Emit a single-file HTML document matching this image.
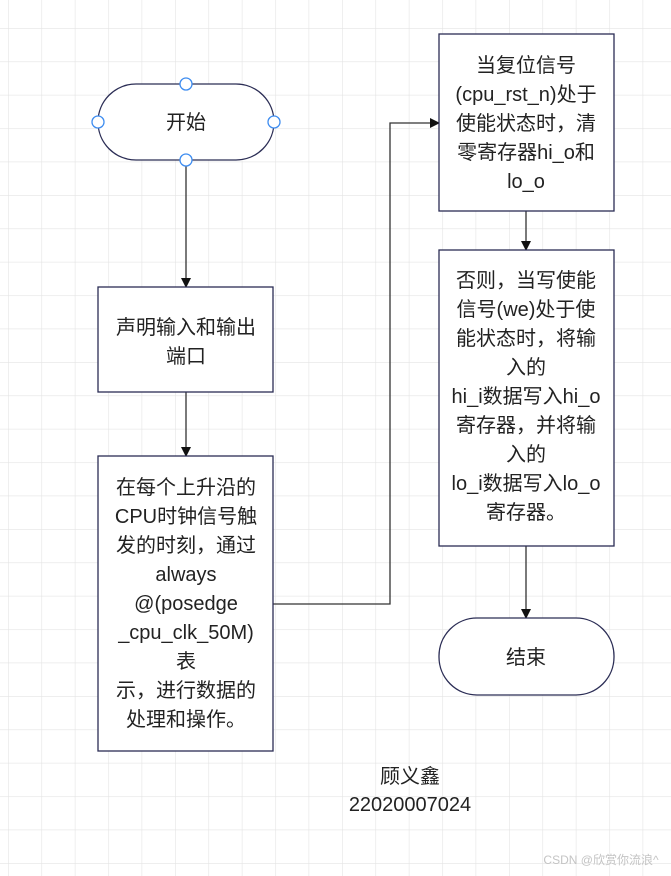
<!DOCTYPE html>
<html><head><meta charset="utf-8"><style>
html,body{margin:0;padding:0;background:#fff}
svg{display:block}
text{font-family:"Liberation Sans","Noto Sans CJK SC",sans-serif;fill:#222}
</style></head><body>
<svg width="671" height="876" viewBox="0 0 671 876" xmlns="http://www.w3.org/2000/svg">
<defs>
<pattern id="g" x="8" y="28" width="33.4" height="33.4" patternUnits="userSpaceOnUse">
<path d="M0 0V33.4M0 0H33.4" stroke="#e4e4e4" stroke-width="1.2" fill="none"/>
</pattern>
<marker id="a" markerWidth="10" markerHeight="10" refX="9" refY="5" orient="auto" markerUnits="userSpaceOnUse">
<path d="M0 0L10 5L0 10Z" fill="#111"/>
</marker>
</defs>
<rect width="671" height="876" fill="#fff"/>
<rect width="671" height="876" fill="url(#g)"/>
<g stroke="#333" stroke-width="1.3" fill="none">
<path d="M186 160V287" marker-end="url(#a)"/>
<path d="M186 392V456" marker-end="url(#a)"/>
<path d="M273 604H390V123H439" marker-end="url(#a)"/>
<path d="M526 211V250" marker-end="url(#a)"/>
<path d="M526 546V618" marker-end="url(#a)"/>
</g>
<g stroke="#2b2d55" stroke-width="1.3" fill="#fff">
<rect x="98" y="84" width="176" height="76" rx="38"/>
<rect x="98" y="287" width="175" height="105"/>
<rect x="98" y="456" width="175" height="295"/>
<rect x="439" y="34" width="175" height="177"/>
<rect x="439" y="250" width="175" height="296"/>
<rect x="439" y="618" width="175" height="77" rx="38"/>
</g>
<g fill="#fff" stroke="#3d8cf0" stroke-width="1.3">
<circle cx="186" cy="84" r="6"/><circle cx="186" cy="160" r="6"/>
<circle cx="98" cy="122" r="6"/><circle cx="274" cy="122" r="6"/>
</g>
<g font-size="20" text-anchor="middle">
<text x="186" y="129">开始</text>
<text x="186" y="334">声明输入和输出</text>
<text x="186" y="363">端口</text>
<text x="186" y="494">在每个上升沿的</text>
<text x="186" y="523">CPU时钟信号触</text>
<text x="186" y="552">发的时刻，通过</text>
<text x="186" y="581">always</text>
<text x="186" y="610">@(posedge</text>
<text x="186" y="639">_cpu_clk_50M)</text>
<text x="186" y="668">表</text>
<text x="186" y="697">示，进行数据的</text>
<text x="186" y="726">处理和操作。</text>
<text x="526" y="72">当复位信号</text>
<text x="526" y="101">(cpu_rst_n)处于</text>
<text x="526" y="130">使能状态时，清</text>
<text x="526" y="159">零寄存器hi_o和</text>
<text x="526" y="188">lo_o</text>
<text x="526" y="287">否则，当写使能</text>
<text x="526" y="316">信号(we)处于使</text>
<text x="526" y="345">能状态时，将输</text>
<text x="526" y="374">入的</text>
<text x="526" y="403">hi_i数据写入hi_o</text>
<text x="526" y="432">寄存器，并将输</text>
<text x="526" y="461">入的</text>
<text x="526" y="490">lo_i数据写入lo_o</text>
<text x="526" y="519">寄存器。</text>
<text x="526" y="664">结束</text>
<text x="410" y="783">顾义鑫</text>
<text x="410" y="811">22020007024</text>
</g>
<text x="601" y="864" font-size="12" text-anchor="middle" style="fill:#c4c4c4">CSDN @欣赏你流浪^</text>
</svg>
</body></html>
